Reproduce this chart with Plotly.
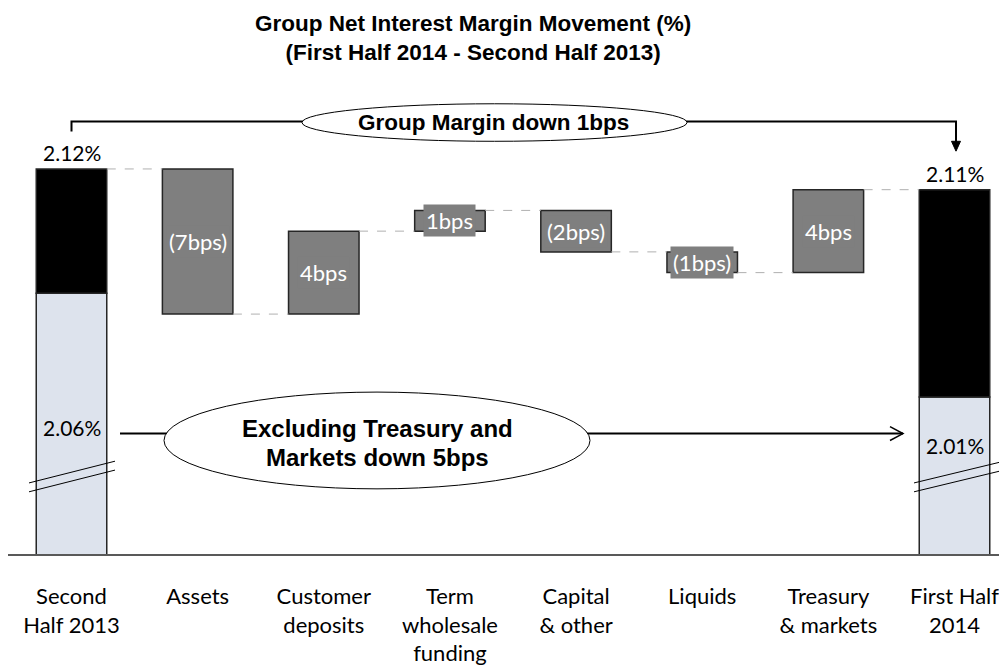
import plotly.graph_objects as go

# ---------------- data ----------------
categories = ["Second<br>Half 2013", "Assets", "Customer<br>deposits", "Term<br>wholesale<br>funding",
              "Capital<br>& other", "Liquids", "Treasury<br>& markets", "First Half<br>2014"]
start_total = 2.12
end_total = 2.11
start_excl = 2.06
end_excl = 2.01
changes_bps = [-7, 4, 1, -2, -1, 4]
change_labels = ["(7bps)", "4bps", "1bps", "(2bps)", "(1bps)", "4bps"]
total_labels = ["2.12%", "2.11%"]
excl_labels = ["2.06%", "2.01%"]
title_lines = ["Group Net Interest Margin Movement (%)", "(First Half 2014 - Second Half 2013)"]
group_note = "Group Margin down 1bps"
excl_note = ["Excluding Treasury and", "Markets down 5bps"]

# ---------------- styles ----------------
OFF = 8                      # page body margin in the browser
W, H = 1007 - OFF, 666 - OFF
BASE_Y = 562                 # page pixel of the x axis line
PLOT_H = BASE_Y - OFF
BAR_W = 0.559
GRAY = "#7f7f7f"
LIGHT = "#dde3ed"
EDGE = "#262626"
LABEL_FONT = "Lato, 'Open Sans', sans-serif"
BOLD_FONT = "'Liberation Sans', Arial, sans-serif"

def px(x):
    return (x - OFF) / W

def py(y):
    return 1 - (y - OFF) / PLOT_H

x_pos = list(range(len(categories)))
n = len(categories)

# running totals for waterfall
bases = []
run = start_total
for b in changes_bps:
    bases.append(run)
    run = round(run + b / 100, 4)
levels = [start_total] + [round(bb + c / 100, 4) for bb, c in zip(bases, changes_bps)]

fig = go.Figure()

fig.add_trace(go.Bar(x=[x_pos[0], x_pos[-1]], y=[start_excl, end_excl], width=BAR_W,
                     marker=dict(color=LIGHT, line=dict(color=EDGE, width=1.5)),
                     hoverinfo="skip", showlegend=False))
fig.add_trace(go.Bar(x=[x_pos[0], x_pos[-1]], base=[start_excl, end_excl],
                     y=[round(start_total - start_excl, 4), round(end_total - end_excl, 4)], width=BAR_W,
                     marker=dict(color="#000000", line=dict(color=EDGE, width=1.5)),
                     hoverinfo="skip", showlegend=False))
fig.add_trace(go.Bar(x=x_pos[1:-1], base=bases, y=[c / 100 for c in changes_bps], width=BAR_W,
                     marker=dict(color=GRAY, line=dict(color=EDGE, width=1.5)),
                     hoverinfo="skip", showlegend=False))

shapes = []
for i in range(n - 1):
    shapes.append(dict(type="line", xref="x", yref="y",
                       x0=x_pos[i] + BAR_W / 2, x1=x_pos[i + 1] - BAR_W / 2,
                       y0=levels[i], y1=levels[i], line=dict(color="#b0b0b0", width=1, dash="dash")))

shapes.append(dict(type="line", xref="paper", yref="paper", x0=0, x1=1, y0=0, y1=0,
                   line=dict(color="#595959", width=2)))

# top bracket
shapes.append(dict(type="path", xref="x", yref="paper",
                   path=f"M {x_pos[0]},{py(133)} L {x_pos[0]},{py(123)} L {x_pos[-1] + 0.012},{py(123)} L {x_pos[-1] + 0.012},{py(144)}",
                   line=dict(color="#000000", width=2)))
shapes.append(dict(type="path", xref="paper", yref="paper",
                   path=f"M {px(951.5)},{py(143)} L {px(960.5)},{py(143)} L {px(956)},{py(153)} Z",
                   fillcolor="#000000", line=dict(color="#000000", width=1)))
shapes.append(dict(type="circle", xref="paper", yref="paper",
                   x0=px(302), x1=px(687), y0=py(105), y1=py(143),
                   fillcolor="#ffffff", line=dict(color="#000000", width=1)))

# lower arrow
shapes.append(dict(type="line", xref="paper", yref="paper", x0=px(120), x1=px(903), y0=py(439), y1=py(439),
                   line=dict(color="#000000", width=2)))
shapes.append(dict(type="path", xref="paper", yref="paper",
                   path=f"M {px(890)},{py(432)} L {px(903)},{py(439)} L {px(890)},{py(446)}",
                   line=dict(color="#000000", width=1.5)))
shapes.append(dict(type="circle", xref="paper", yref="paper",
                   x0=px(164), x1=px(590), y0=py(397), y1=py(495),
                   fillcolor="#ffffff", line=dict(color="#000000", width=1)))

# axis break marks
for (xa, ya, xb, yb) in [(29, 489, 115, 467), (29, 498, 115, 476),
                         (914, 489, 1004, 467), (914, 498, 1004, 476)]:
    shapes.append(dict(type="line", xref="paper", yref="paper", x0=px(xa), x1=px(xb), y0=py(ya), y1=py(yb),
                       line=dict(color="#000000", width=1)))

annotations = []
annotations.append(dict(text="<br>".join(f"<b>{t}</b>" for t in title_lines), xref="paper", yref="paper",
                        x=px(473), y=py(38.5), showarrow=False,
                        font=dict(family=BOLD_FONT, size=22.5, color="#000000"),
                        xanchor="center", yanchor="middle", align="center"))
annotations.append(dict(text=f"<b>{group_note}</b>", xref="paper", yref="paper", x=px(493), y=py(124),
                        showarrow=False, font=dict(family=BOLD_FONT, size=22.5, color="#000000"),
                        xanchor="center", yanchor="middle"))
for txt, yy in zip(excl_note, [434, 463]):
    annotations.append(dict(text=f"<b>{txt}</b>", xref="paper", yref="paper", x=px(377), y=py(yy),
                            showarrow=False, font=dict(family=BOLD_FONT, size=24, color="#000000"),
                            xanchor="center", yanchor="middle", borderpad=0))

for xi, val, lab in [(x_pos[0], start_total, total_labels[0]), (x_pos[-1], end_total, total_labels[1])]:
    annotations.append(dict(text=lab, xref="x", yref="y", x=xi, y=val, yshift=16, showarrow=False,
                            font=dict(family=LABEL_FONT, size=21, color="#000000"),
                            xanchor="center", yanchor="middle"))
for xi, lab, yy in [(x_pos[0], excl_labels[0], 433), (x_pos[-1], excl_labels[1], 451)]:
    annotations.append(dict(text=lab, xref="x", yref="paper", x=xi, y=py(yy), showarrow=False,
                            font=dict(family=LABEL_FONT, size=21, color="#000000"),
                            xanchor="center", yanchor="middle"))
for xi, bb, c, lab in zip(x_pos[1:-1], bases, changes_bps, change_labels):
    annotations.append(dict(text=lab, xref="x", yref="y", x=xi, y=bb + c / 200, showarrow=False,
                            font=dict(family=LABEL_FONT, size=22, color="#ffffff"),
                            bgcolor=GRAY, borderpad=2, xanchor="center", yanchor="middle"))

fig.update_layout(
    width=W, height=H,
    margin=dict(l=0, r=0, t=0, b=H - PLOT_H),
    paper_bgcolor="#ffffff", plot_bgcolor="#ffffff",
    barmode="overlay",
    showlegend=False,
    xaxis=dict(range=[-63.5 / 126.14, 7 + 52.5 / 126.14], tickvals=x_pos, ticktext=categories, showgrid=False,
               zeroline=False, showline=False, ticks="", ticklabelstandoff=26,
               tickfont=dict(family=LABEL_FONT, size=22, color="#000000"), fixedrange=True),
    yaxis=dict(range=[start_total - (BASE_Y - 171) / 2100, start_total + (171 - OFF) / 2100], visible=False,
               showgrid=False, zeroline=False, fixedrange=True),
    shapes=shapes,
    annotations=annotations,
)

fig.write_html("out.html")
